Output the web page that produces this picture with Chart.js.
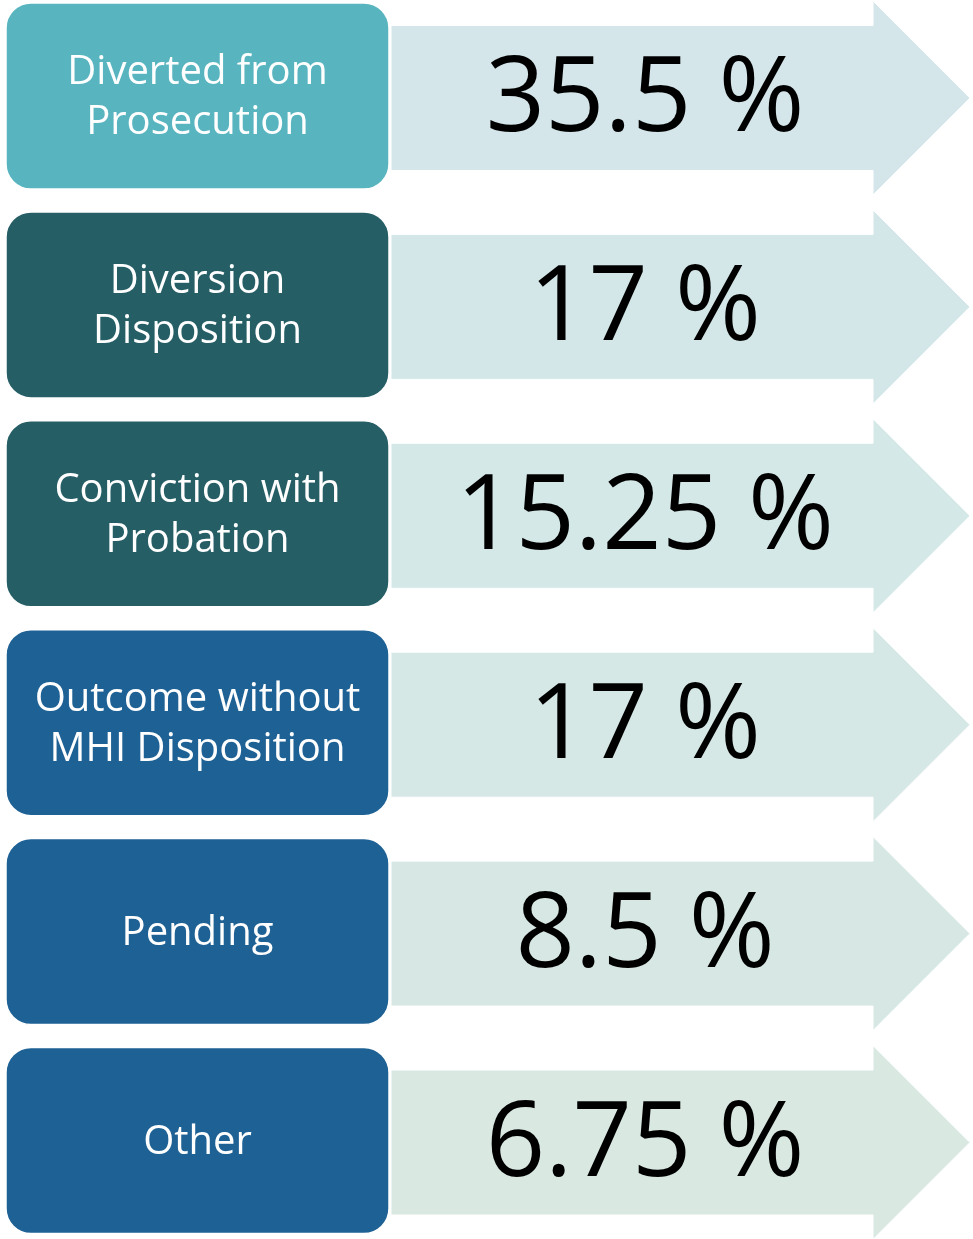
<!DOCTYPE html>
<html>
<head>
<meta charset="utf-8">
<script src="https://cdn.jsdelivr.net/npm/chart.js@4"></script>
<style>
  html, body { margin: 0; padding: 0; background: #fff; }
  #wrap { width: 973px; height: 1239px; }
</style>
</head>
<body>
<div id="wrap"><canvas id="chart"></canvas></div>
<script>
// outcome categories (one row each) and their share in percent
const categories = [
  ['Diverted from', 'Prosecution'],
  ['Diversion', 'Disposition'],
  ['Conviction with', 'Probation'],
  ['Outcome without', 'MHI Disposition'],
  ['Pending'],
  ['Other']
];
const percents = [35.5, 17, 15.25, 17, 8.5, 6.75];

// colours
const boxColors = ['#58b5c0', '#265e66', '#265e66', '#1e6195', '#1e6195', '#1e6195'];
const arrowColors = ['#d4e6ea', '#d4e7e8', '#d5e8e8', '#d5e8e6', '#d7e8e4', '#d9e9e2'];

// draws the label box + arrow for every row, positioned by the y scale
const rowsPlugin = {
  id: 'rows',
  afterDatasetsDraw(chart) {
    const ctx = chart.ctx;
    const yScale = chart.scales.y;
    ctx.save();
    categories.forEach((lines, i) => {
      const cy = yScale.getPixelForValue(i);

      // arrow
      const ay = cy + 2;
      ctx.beginPath();
      ctx.moveTo(391, ay - 72.5);
      ctx.lineTo(873, ay - 72.5);
      ctx.lineTo(873, ay - 97);
      ctx.lineTo(970, ay);
      ctx.lineTo(873, ay + 97);
      ctx.lineTo(873, ay + 72.5);
      ctx.lineTo(391, ay + 72.5);
      ctx.closePath();
      ctx.fillStyle = arrowColors[i];
      ctx.fill();
      ctx.strokeStyle = '#ffffff';
      ctx.lineWidth = 1;
      ctx.stroke();

      // label box
      ctx.beginPath();
      ctx.roundRect(6, cy - 93, 383, 186, 25);
      ctx.fillStyle = boxColors[i];
      ctx.fill();
      ctx.strokeStyle = '#ffffff';
      ctx.lineWidth = 1.5;
      ctx.stroke();

      // label text
      ctx.fillStyle = '#ffffff';
      ctx.font = '40px "Open Sans"';
      ctx.textAlign = 'center';
      ctx.textBaseline = 'alphabetic';
      lines.forEach((line, k) => {
        ctx.fillText(line, 197.5, cy + 13 + (k - (lines.length - 1) / 2) * 50);
      });

      // value text
      ctx.fillStyle = '#000000';
      ctx.font = '104px "Open Sans"';
      ctx.fillText(percents[i] + ' %', 645, cy + 35);
    });
    ctx.restore();
  }
};

new Chart(document.getElementById('chart'), {
  type: 'bar',
  data: {
    labels: categories.map(c => c.join(' ')),
    datasets: [{
      label: 'Share',
      data: percents,
      backgroundColor: 'rgba(0,0,0,0)'
    }]
  },
  options: {
    indexAxis: 'y',
    responsive: true,
    maintainAspectRatio: false,
    animation: false,
    layout: { padding: { top: 96, bottom: 98.5, left: 0, right: 0 } },
    scales: {
      x: { display: false, min: 0, max: 40 },
      y: { display: false, offset: false }
    },
    plugins: {
      legend: { display: false },
      tooltip: { enabled: false }
    }
  },
  plugins: [rowsPlugin]
});
</script>
</body>
</html>
